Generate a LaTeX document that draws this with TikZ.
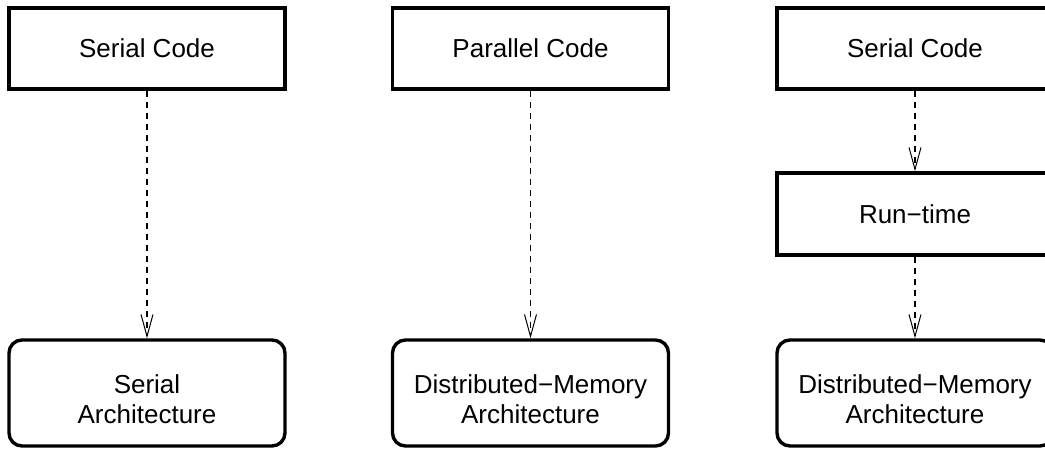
\documentclass[tikz,border=0pt]{standalone}
\usepackage{fontspec}
\setmainfont{Liberation Sans}
\usetikzlibrary{arrows.meta}
\begin{document}
\begin{tikzpicture}[x=1pt,y=1pt,
  codebox/.style={draw, line width=3.4pt, minimum width=276pt, minimum height=81pt,
    inner sep=0pt, font=\fontsize{26}{30}\selectfont, align=center},
  archbox/.style={codebox, rounded corners=13pt, minimum height=106pt,
    label={[font=\fontsize{26}{30}\selectfont, align=center, yshift=-6pt]center:#1}},
  flow/.style={dash pattern=on 6pt off 5pt, line width=1.2pt,
    -{Straight Barb[length=22pt,width=12pt,line width=1pt]}}]
  \useasboundingbox (0,0) rectangle (1045,448);
  % left column
  \node[codebox] (sc1) at (147,399.5) {Serial Code};
  \node[archbox={Serial\\Architecture}] (sa1) at (147,55) {};
  % middle column
  \node[codebox] (pc2) at (530.5,399.5) {Parallel Code};
  \node[archbox={Distributed−Memory\\Architecture}] (dm2) at (530.5,55) {};
  % right column
  \node[codebox] (sc3) at (915,399.5) {Serial Code};
  \node[codebox, minimum height=82pt] (rt3) at (915,234) {Run−time};
  \node[archbox={Distributed−Memory\\Architecture}] (dm3) at (915,55) {};
  % connectors
  \draw[flow] (sc1) -- (sa1);
  \draw[flow] (pc2) -- (dm2);
  \draw[flow] (sc3) -- (rt3);
  \draw[flow] (rt3) -- (dm3);
\end{tikzpicture}
\end{document}
